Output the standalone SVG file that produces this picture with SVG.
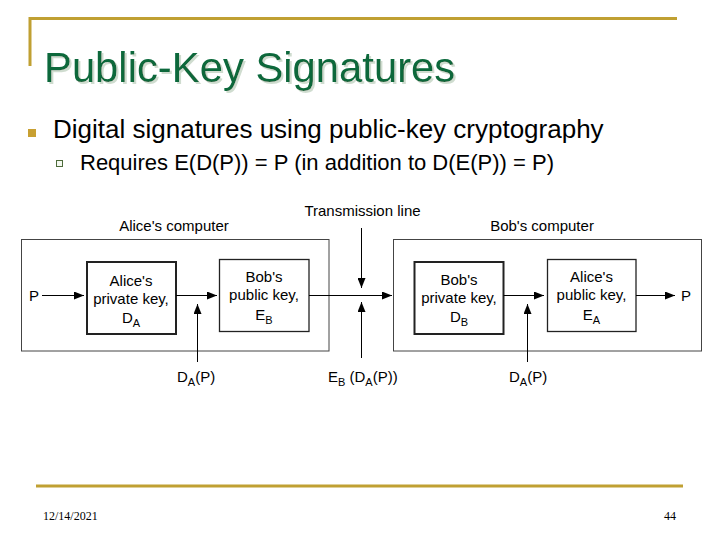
<svg xmlns="http://www.w3.org/2000/svg" width="720" height="540" viewBox="0 0 720 540">
  <defs>
    <marker id="ah" viewBox="0 0 10 8" refX="10" refY="4" markerWidth="10" markerHeight="8" markerUnits="userSpaceOnUse" orient="auto">
      <path d="M0,0 L10,4 L0,8 z" fill="#000"/>
    </marker>
    <filter id="shadow" x="-5%" y="-20%" width="110%" height="140%">
      <feOffset in="SourceAlpha" dx="2" dy="2" result="off"/>
      <feFlood flood-color="#cfdccf"/>
      <feComposite in2="off" operator="in" result="sh"/>
      <feMerge>
        <feMergeNode in="sh"/>
        <feMergeNode in="SourceGraphic"/>
      </feMerge>
    </filter>
    <style>
      .gold { stroke: #c0a032; stroke-width: 3; fill: none; }
      .title { font-family: "Liberation Sans", Arial, sans-serif; font-size: 41.8px; fill: #08683a; }
      .b1 { font-family: "Liberation Sans", Arial, sans-serif; font-size: 26px; fill: #000; }
      .b2 { font-family: "Liberation Sans", Arial, sans-serif; font-size: 22px; fill: #000; }
      .lbl { font-family: "Liberation Sans", Arial, sans-serif; font-size: 15px; fill: #000; }
      .sub { font-size: 11px; }
      .foot { font-family: "Liberation Serif", "Times New Roman", serif; font-size: 12px; fill: #000; }
      .outer { fill: none; stroke: #444; stroke-width: 1; }
      .priv { fill: none; stroke: #222; stroke-width: 2; }
      .pub { fill: none; stroke: #222; stroke-width: 1.3; }
      .conn line { stroke: #000; stroke-width: 1; marker-end: url(#ah); }
    </style>
  </defs>
  <rect width="720" height="540" fill="#fff"/>

  <g id="frame">
    <path class="gold" d="M30,66 V18.5 H677"/>
    <line class="gold" x1="36" y1="486" x2="683" y2="486"/>
  </g>

  <g id="title">
    <text class="title" x="44" y="82" filter="url(#shadow)">Public-Key Signatures</text>
  </g>

  <g id="bullets">
    <rect x="28" y="129" width="8" height="8" fill="#c8a032"/>
    <text class="b1" x="53" y="138">Digital signatures using public-key cryptography</text>
    <rect x="56.5" y="160.5" width="6" height="6" fill="#f4f8f0" stroke="#4d6b3b" stroke-width="1"/>
    <text class="b2" x="80" y="170">Requires E(D(P)) = P (in addition to D(E(P)) = P)</text>
  </g>

  <g id="alice-computer">
    <rect class="outer" x="21.5" y="239.5" width="307.5" height="111.5"/>
    <text class="lbl" x="174" y="230.5" text-anchor="middle">Alice's computer</text>
  </g>
  <g id="alice-private-key">
    <rect class="priv" x="87" y="262" width="89" height="72"/>
    <text class="lbl" x="131" y="286" text-anchor="middle">Alice's</text>
    <text class="lbl" x="131" y="304" text-anchor="middle">private key,</text>
    <text class="lbl" x="131" y="323" text-anchor="middle">D<tspan class="sub" dy="4">A</tspan></text>
  </g>
  <g id="bob-public-key">
    <rect class="pub" x="219.5" y="259.5" width="89.5" height="72"/>
    <text class="lbl" x="264" y="282" text-anchor="middle">Bob's</text>
    <text class="lbl" x="264" y="300" text-anchor="middle">public key,</text>
    <text class="lbl" x="264" y="320" text-anchor="middle">E<tspan class="sub" dy="4">B</tspan></text>
  </g>

  <g id="bob-computer">
    <rect class="outer" x="393.5" y="239.5" width="308" height="111.5"/>
    <text class="lbl" x="542" y="230.5" text-anchor="middle">Bob's computer</text>
  </g>
  <g id="bob-private-key">
    <rect class="priv" x="414.5" y="262" width="89" height="72"/>
    <text class="lbl" x="459" y="285" text-anchor="middle">Bob's</text>
    <text class="lbl" x="459" y="303" text-anchor="middle">private key,</text>
    <text class="lbl" x="459" y="322" text-anchor="middle">D<tspan class="sub" dy="4">B</tspan></text>
  </g>
  <g id="alice-public-key">
    <rect class="pub" x="547.5" y="259.5" width="88.5" height="72"/>
    <text class="lbl" x="591.5" y="282" text-anchor="middle">Alice's</text>
    <text class="lbl" x="591.5" y="300" text-anchor="middle">public key,</text>
    <text class="lbl" x="591.5" y="320" text-anchor="middle">E<tspan class="sub" dy="4">A</tspan></text>
  </g>

  <g id="labels">
    <text class="lbl" x="29" y="301">P</text>
    <text class="lbl" x="681" y="301">P</text>
    <text class="lbl" x="362.5" y="216" text-anchor="middle">Transmission line</text>
    <text class="lbl" x="177" y="382">D<tspan class="sub" dy="4">A</tspan><tspan dy="-4">(P)</tspan></text>
    <text class="lbl" x="328" y="382">E<tspan class="sub" dy="4">B</tspan><tspan dy="-4"> (D</tspan><tspan class="sub" dy="4">A</tspan><tspan dy="-4">(P))</tspan></text>
    <text class="lbl" x="509" y="382">D<tspan class="sub" dy="4">A</tspan><tspan dy="-4">(P)</tspan></text>
  </g>

  <g id="connectors" class="conn">
    <line x1="42" y1="295.5" x2="84" y2="295.5"/>
    <line x1="176" y1="295.5" x2="217" y2="295.5"/>
    <line x1="197.5" y1="362" x2="197.5" y2="304"/>
    <line x1="309" y1="295.5" x2="392" y2="295.5"/>
    <line x1="361.5" y1="228" x2="361.5" y2="288"/>
    <line x1="361.5" y1="358" x2="361.5" y2="302"/>
    <line x1="503.5" y1="295.5" x2="544" y2="295.5"/>
    <line x1="527.5" y1="362" x2="527.5" y2="304"/>
    <line x1="636" y1="295.5" x2="675" y2="295.5"/>
  </g>

  <g id="footer">
    <text class="foot" x="43" y="520">12/14/2021</text>
    <text class="foot" x="676" y="520" text-anchor="end">44</text>
  </g>
</svg>
